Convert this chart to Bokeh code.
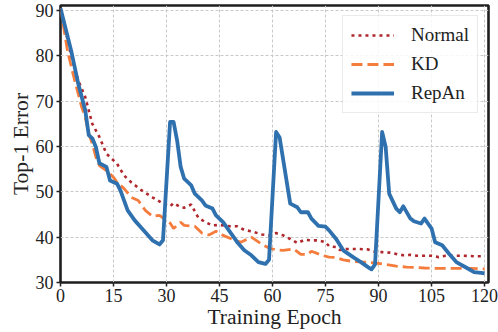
from bokeh.plotting import figure
from bokeh.models import Range1d, FixedTicker, Legend, LegendItem
from bokeh.embed import file_html
from bokeh.resources import INLINE

# ---- data ----
normal_epoch = [0, 3, 5, 7, 9, 11, 13, 16, 18, 20, 23, 26, 29, 31, 32, 34, 35, 37, 38, 39,
                41, 43, 45, 48, 50, 52, 54, 57, 59, 61, 63, 65, 67, 69, 71, 73, 75, 76, 78,
                79, 81, 84, 87, 89, 91, 93, 95, 97, 99, 101, 103, 105, 107, 109, 114, 117, 120]
normal_error = [90.5, 80.0, 74.6, 70.9, 65.0, 62.1, 58.4, 56.2, 53.6, 52.1, 50.3, 48.8, 47.4,
                46.8, 47.5, 46.6, 46.5, 47.2, 45.7, 44.3, 43.3, 42.6, 42.7, 42.4, 42.4, 41.6,
                41.3, 40.6, 40.4, 40.9, 40.4, 39.6, 38.7, 39.4, 39.3, 39.3, 38.9, 38.0, 37.8,
                37.2, 37.4, 37.4, 37.3, 36.8, 36.7, 36.6, 36.3, 36.0, 36.1, 35.9, 35.9, 35.9,
                35.6, 35.9, 35.9, 35.8, 35.8]

kd_epoch = [0, 2, 4, 6, 7, 8, 9, 10, 11, 13, 15, 16, 18, 20, 22, 24, 26, 28, 30, 31, 32, 34,
            35, 38, 40, 42, 44, 46, 49, 51, 54, 57, 59, 61, 63, 66, 68, 70, 71, 74, 76, 78,
            80, 83, 86, 89, 92, 95, 98, 103, 107, 112, 116, 120]
kd_error = [90.5, 81.0, 74.6, 68.7, 66.5, 62.8, 60.6, 57.7, 55.8, 54.7, 53.2, 52.1, 50.7,
            48.8, 48.1, 45.9, 44.6, 44.8, 43.7, 43.1, 41.9, 43.3, 42.6, 42.4, 40.9, 40.5,
            41.3, 40.4, 39.4, 38.9, 40.0, 38.4, 37.6, 37.2, 37.1, 37.4, 36.2, 36.2, 36.9,
            36.0, 35.6, 35.5, 35.0, 34.6, 34.5, 34.3, 34.0, 33.6, 33.4, 33.2, 33.1, 33.1,
            33.1, 33.0]

repan_epoch = [0, 3, 5, 7, 8, 9, 10, 11, 13, 14, 16, 17, 19, 21, 24, 26, 28, 29, 31, 32, 33,
               34, 35, 37, 38, 40, 41, 43, 44, 46, 48, 50, 52, 54, 56, 58, 59, 61, 62, 65,
               67, 68, 70, 71, 73, 75, 76, 78, 80, 83, 85, 87, 88, 89, 91, 92, 93, 95, 96,
               97, 99, 100, 102, 103, 105, 106, 108, 110, 112, 115, 117, 119, 120]
repan_error = [90.5, 81.2, 73.9, 68.0, 62.5, 61.8, 59.9, 56.3, 55.5, 52.5, 51.8, 50.2, 45.9,
               43.7, 41.1, 39.3, 38.4, 39.3, 65.4, 65.4, 61.3, 55.5, 52.9, 51.4, 49.6, 48.1,
               47.0, 46.3, 44.8, 43.3, 41.1, 38.9, 37.1, 36.0, 34.5, 34.1, 35.0, 63.2, 62.0,
               47.4, 46.6, 45.5, 45.5, 44.1, 42.5, 42.3, 41.5, 39.6, 37.1, 35.5, 34.5, 33.4,
               32.9, 34.0, 63.2, 59.9, 49.6, 46.3, 45.5, 46.8, 44.1, 43.5, 43.0, 44.1, 41.9,
               38.9, 38.2, 36.3, 34.5, 33.2, 32.3, 32.1, 32.0]

x_ticks = [0, 15, 30, 45, 60, 75, 90, 105, 120]
y_ticks = [30, 40, 50, 60, 70, 80, 90]
series_names = ["Normal", "KD", "RepAn"]

FONT = "Liberation Serif"
FONT_STACK = "'Liberation Serif', 'Times New Roman', serif"
TXT = "#222222"

p = figure(width=498, height=332, output_backend="svg", toolbar_location=None,
           x_range=Range1d(0, 121.1), y_range=Range1d(30, 91.1),
           min_border_left=60, min_border_right=10, min_border_top=5, min_border_bottom=50,
           background_fill_color="white", border_fill_color="white")

p.outline_line_color = "#1e1e1e"
p.outline_line_width = 2.6
p.outline_line_alpha = 1.0

for ax in (p.xaxis[0], p.yaxis[0]):
    ax.axis_line_color = None
    ax.major_tick_line_color = "#222222"
    ax.major_tick_line_width = 1.5
    ax.major_tick_in = 0
    ax.major_tick_out = 4
    ax.minor_tick_line_color = None
    ax.major_label_text_font = FONT_STACK
    ax.major_label_text_font_size = "18px"
    ax.major_label_text_color = TXT
    ax.axis_label_text_font = FONT
    ax.axis_label_text_font_size = "21.6px"
    ax.axis_label_text_font_style = "normal"
    ax.axis_label_text_color = TXT
    ax.axis_label_standoff = 0

p.xaxis.ticker = FixedTicker(ticks=x_ticks)
p.yaxis.ticker = FixedTicker(ticks=y_ticks)
p.xaxis.major_label_standoff = 2
p.yaxis.major_label_standoff = 3
p.xaxis.axis_label = "Training Epoch"
p.yaxis.axis_label = "Top-1 Error"

p.xgrid.ticker = FixedTicker(ticks=x_ticks)
p.ygrid.ticker = FixedTicker(ticks=y_ticks)
for g in (p.xgrid[0], p.ygrid[0]):
    g.grid_line_color = "#c8c8c8"
    g.grid_line_width = 1
    g.grid_line_dash = "3 2"

r_normal = p.line(normal_epoch, normal_error, line_color="#b0272d", line_width=2.6,
                  line_dash="3 4")
r_kd = p.line(kd_epoch, kd_error, line_color="#f47c3c", line_width=2.8, line_dash="11 5")
r_repan = p.line(repan_epoch, repan_error, line_color="#2f71ae", line_width=3.8,
                 line_join="round")

legend = Legend(items=[LegendItem(label=series_names[0], renderers=[r_normal]),
                       LegendItem(label=series_names[1], renderers=[r_kd]),
                       LegendItem(label=series_names[2], renderers=[r_repan])],
                location="top_right", margin=10, padding=8, spacing=7,
                glyph_width=43, glyph_height=20, label_height=20, label_standoff=17,
                label_text_font=FONT_STACK, label_text_font_size="19px",
                label_text_color=TXT,
                border_line_color="#d6d6d6", border_line_width=1,
                background_fill_color="white", background_fill_alpha=0.85)
p.add_layout(legend)

open("out.html", "w").write(file_html(p, INLINE))
